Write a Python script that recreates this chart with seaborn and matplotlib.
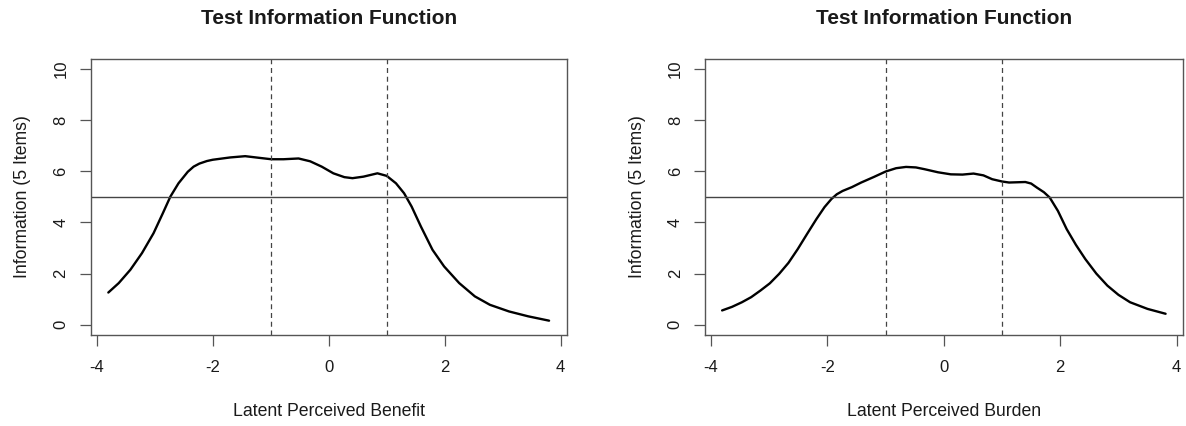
import matplotlib
matplotlib.use("Agg")
import matplotlib.pyplot as plt
import seaborn as sns
import numpy as np
import pandas as pd

sns.set_theme(style="white")
plt.rcParams['font.family'] = ['Liberation Sans', 'DejaVu Sans']

# Data
theta_benefit = [-3.80, -3.62, -3.42, -3.22, -3.02, -2.86, -2.73, -2.59, -2.43, -2.33, -2.23,
                 -2.10, -2.00, -1.70, -1.44, -1.18, -0.99, -0.78, -0.52, -0.32, -0.12, 0.08,
                 0.27, 0.41, 0.60, 0.84, 1.00, 1.16, 1.30, 1.43, 1.59, 1.79, 1.99, 2.25, 2.52,
                 2.78, 3.11, 3.44, 3.80]
info_benefit = [1.26, 1.63, 2.15, 2.80, 3.58, 4.36, 5.01, 5.53, 5.98, 6.18, 6.30,
                6.40, 6.45, 6.54, 6.59, 6.52, 6.47, 6.47, 6.50, 6.39, 6.18, 5.92,
                5.77, 5.73, 5.79, 5.92, 5.82, 5.53, 5.14, 4.62, 3.84, 2.93, 2.28, 1.63, 1.11,
                0.78, 0.52, 0.33, 0.16]

theta_burden = [-3.81, -3.64, -3.47, -3.31, -3.15, -2.99, -2.83, -2.67, -2.51, -2.35, -2.19,
                -2.05, -1.93, -1.84, -1.74, -1.58, -1.42, -1.20, -1.00, -0.82, -0.65, -0.48,
                -0.33, -0.10, 0.12, 0.32, 0.51, 0.68, 0.83, 1.00, 1.12, 1.26, 1.40, 1.50,
                1.60, 1.72, 1.82, 1.96, 2.11, 2.27, 2.43, 2.62, 2.81, 3.00, 3.20, 3.50, 3.81]
info_burden = [0.56, 0.70, 0.88, 1.08, 1.34, 1.62, 1.99, 2.42, 2.96, 3.55, 4.13,
               4.60, 4.92, 5.10, 5.23, 5.38, 5.56, 5.78, 5.99, 6.12, 6.17, 6.15,
               6.08, 5.96, 5.88, 5.87, 5.91, 5.84, 5.69, 5.60, 5.56, 5.57, 5.58, 5.52,
               5.36, 5.18, 4.97, 4.45, 3.74, 3.12, 2.57, 2.00, 1.53, 1.17, 0.88, 0.62, 0.43]

x_ticks = [-4, -2, 0, 2, 4]
y_ticks = [0, 2, 4, 6, 8, 10]
titles = ["Test Information Function", "Test Information Function"]
x_labels = ["Latent Perceived Benefit", "Latent Perceived Burden"]
y_label = "Information (5 Items)"
cut_line = 5
band = [-1, 1]

W, H = 1186, 426
fig = plt.figure(figsize=(W / 100, H / 100), dpi=100)
axes = [fig.add_axes([90.7 / W, 91 / H, 476 / W, 276.3 / H]),
        fig.add_axes([705 / W, 91 / H, 477.7 / W, 276.3 / H])]

frame_col = "#555555"
text_col = "#1a1a1a"
series = [(theta_benefit, info_benefit), (theta_burden, info_burden)]

for ax, (xs, ys), title, xl in zip(axes, series, titles, x_labels):
    df = pd.DataFrame({"theta": xs, "info": ys})
    sns.lineplot(data=df, x="theta", y="info", ax=ax, color="black", linewidth=1.7,
                 sort=False, estimator=None)
    ax.axhline(cut_line, color="#444444", linewidth=1.0)
    for b in band:
        ax.axvline(b, color="#444444", linewidth=0.9, linestyle=(0, (4, 3)))
    ax.set_xlim(-4.104, 4.104)
    ax.set_ylim(-0.4, 10.4)
    ax.set_xticks(x_ticks)
    ax.set_yticks(y_ticks)
    ax.set_xticklabels([str(t) for t in x_ticks])
    ax.set_yticklabels([str(t) for t in y_ticks], rotation=90, va="center")
    ax.tick_params(axis="both", direction="out", length=8, width=0.9, color=frame_col,
                   labelsize=12, labelcolor=text_col, left=True, bottom=True)
    ax.tick_params(axis="x", pad=10)
    ax.tick_params(axis="y", pad=8)
    for s in ax.spines.values():
        s.set_visible(True)
        s.set_color(frame_col)
        s.set_linewidth(1.0)
    ax.set_title(title, fontsize=15, fontweight="bold", color=text_col, pad=25)
    ax.set_xlabel(xl, fontsize=12.7, color=text_col, labelpad=20)
    ax.set_ylabel(y_label, fontsize=12.7, color=text_col, labelpad=16)
    ax.grid(False)
    ax.set_facecolor("white")

fig.savefig("out.png", dpi=100, facecolor="white")
